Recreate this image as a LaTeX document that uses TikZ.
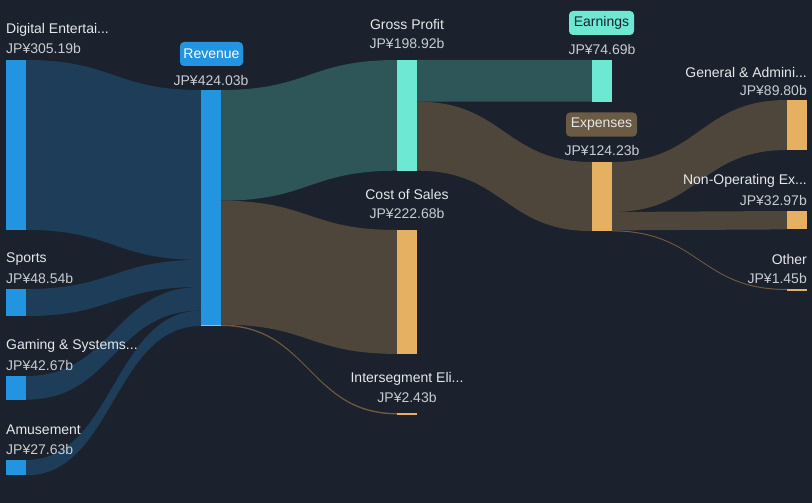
\documentclass[tikz,border=0pt]{standalone}
\usepackage{fontspec}
\setmainfont{Liberation Sans}
\definecolor{bg}{HTML}{1B212D}
\definecolor{barblue}{HTML}{2394E0}
\definecolor{linkblue}{HTML}{1D3D58}
\definecolor{linkteal}{HTML}{2E5558}
\definecolor{barteal}{HTML}{6DE9D3}
\definecolor{bartan}{HTML}{E6B062}
\definecolor{linkbrown}{HTML}{4E463B}
\definecolor{thinbrown}{HTML}{6E5B3F}
\definecolor{expbox}{HTML}{6B5A44}
\definecolor{lbl}{HTML}{E6E8EA}
\definecolor{val}{HTML}{C9CCD0}
\tikzset{
  lab/.style={font=\fontsize{14}{16}\selectfont, text=lbl, inner sep=0pt},
  vallab/.style={font=\fontsize{14}{16}\selectfont, text=val, inner sep=0pt},
  tagbox/.style={font=\fontsize{14}{16}\selectfont, rounded corners=4pt, inner sep=0pt, minimum height=24pt},
}
% \band{x1}{ya1}{yb1}{x2}{ya2}{yb2}{colour}
\newcommand{\band}[7]{%
  \pgfmathsetmacro{\xm}{(#1+#4)/2}%
  \fill[#7] (#1,#2) .. controls (\xm,#2) and (\xm,#5) .. (#4,#5) -- (#4,#6) .. controls (\xm,#6) and (\xm,#3) .. (#1,#3) -- cycle;}
\newcommand{\sbar}[5]{\fill[#5] (#1,#2) rectangle (#3,#4);}
\begin{document}
\begin{tikzpicture}[x=1pt,y=-1pt]
\fill[bg] (0,0) rectangle (812,503);
\useasboundingbox (0,0) rectangle (812,503);
% links
\band{26}{60}{229.9}{201}{90}{259.9}{linkblue}
\band{26}{289}{316}{201}{259.9}{286.9}{linkblue}
\band{26}{376}{399.7}{201}{286.9}{310.6}{linkblue}
\band{26}{460}{475.4}{201}{310.6}{326}{linkblue}
\band{221}{90}{200.7}{397}{60}{170.7}{linkteal}
\band{221}{200.7}{324.6}{397}{230}{353.9}{linkbrown}
\band{221}{324.6}{326}{397}{413}{414.4}{thinbrown}
\band{417}{60}{101.6}{592}{60}{101.6}{linkteal}
\band{417}{101.6}{170.7}{592}{162}{231.1}{linkbrown}
\band{612}{162}{212}{787}{100}{150}{linkbrown}
\band{612}{212}{230.4}{787}{211}{229.4}{linkbrown}
\band{612}{230.4}{231.4}{787}{289}{290}{thinbrown}
% bars
\sbar{6}{60}{26}{229.9}{barblue}
\sbar{6}{289}{26}{316}{barblue}
\sbar{6}{376}{26}{399.7}{barblue}
\sbar{6}{460}{26}{475.4}{barblue}
\sbar{201}{90}{221}{324.6}{barblue}
\sbar{201}{324.6}{221}{326}{bartan}
\sbar{397}{60}{417}{170.7}{barteal}
\sbar{397}{230}{417}{353.9}{bartan}
\sbar{397}{413}{417}{415}{bartan}
\sbar{592}{60}{612}{101.6}{barteal}
\sbar{592}{162}{612}{231.1}{bartan}
\sbar{787}{100}{807}{150}{bartan}
\sbar{787}{211}{807}{229.4}{bartan}
\sbar{787}{289}{807}{290.5}{bartan}
% labels left column
\node[lab,anchor=west] (l1) at (6,30) {Digital Entertai...};
\node[vallab,anchor=west] (v1) at (6,48) {JP¥305.19b};
\node[lab,anchor=west] (l2) at (6,259) {Sports};
\node[vallab,anchor=west] (v2) at (6,278) {JP¥48.54b};
\node[lab,anchor=west] (l3) at (6,346) {Gaming \& Systems...};
\node[vallab,anchor=west] (v3) at (6,365) {JP¥42.67b};
\node[lab,anchor=west] (l4) at (6,430) {Amusement};
\node[vallab,anchor=west] (v4) at (6,449) {JP¥27.63b};
% revenue
\node[tagbox,fill=barblue,text=white,minimum width=63pt] (rev) at (211.5,54) {Revenue};
\node[vallab] (vrev) at (211,80) {JP¥424.03b};
% middle column
\node[lab] (lgp) at (407,24) {Gross Profit};
\node[vallab] (vgp) at (407,43) {JP¥198.92b};
\node[lab] (lcs) at (407,194) {Cost of Sales};
\node[vallab] (vcs) at (407,213) {JP¥222.68b};
\node[lab] (lie) at (407,379) {Intersegment Eli...};
\node[vallab] (vie) at (407,397) {JP¥2.43b};
% fourth column
\node[tagbox,fill=barteal,text=bg,minimum width=65pt] (earn) at (601.5,23) {Earnings};
\node[vallab] (vearn) at (602,49) {JP¥74.69b};
\node[tagbox,fill=expbox,text=lbl,minimum width=71pt] (exp) at (601.5,124.5) {Expenses};
\node[vallab] (vexp) at (602,150) {JP¥124.23b};
% right column
\node[lab,anchor=east] (lga) at (807,72) {General \& Admini...};
\node[vallab,anchor=east] (vga) at (807,90) {JP¥89.80b};
\node[lab,anchor=east] (lno) at (807,181) {Non-Operating Ex...};
\node[vallab,anchor=east] (vno) at (807,200) {JP¥32.97b};
\node[lab,anchor=east] (lot) at (807,259) {Other};
\node[vallab,anchor=east] (vot) at (807,278) {JP¥1.45b};
\end{tikzpicture}
\end{document}
